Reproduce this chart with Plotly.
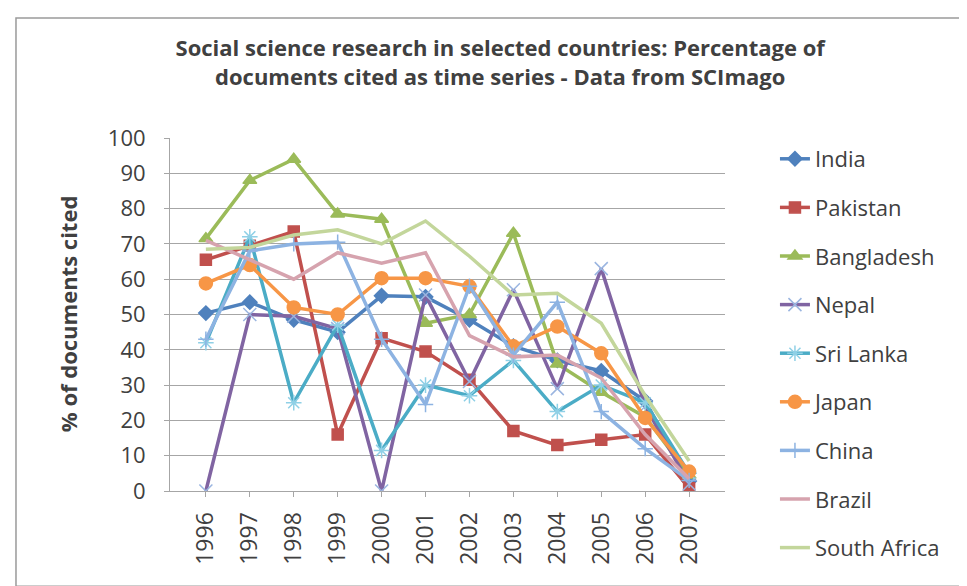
import plotly.graph_objects as go

years = ["1996", "1997", "1998", "1999", "2000", "2001", "2002", "2003", "2004", "2005", "2006", "2007"]

india = [50.4, 53.5, 48.5, 45, 55.3, 55, 48.5, 41, 37, 34, 25.5, 2.8]
pakistan = [65.5, 69.5, 73.5, 16, 43.3, 39.5, 31.5, 17, 13, 14.5, 16, 0.8]
bangladesh = [71.5, 88, 94, 78.5, 77, 47.5, 50, 73, 36, 28, 21, 4.5]
nepal = [0, 50, 49.5, 46, 0, 55.5, 31, 57, 29, 63, 24, 2]
sri_lanka = [42, 72, 25, 47, 11.5, 30, 27, 37, 22.5, 30, 25, 5]
japan = [58.8, 64, 52, 50, 60.3, 60.3, 58, 41, 46.6, 39, 20.7, 5.5]
china = [43, 68, 70, 70.5, 43, 24.5, 58, 38.5, 53.5, 22.5, 12, 3]
brazil = [71, 65.5, 60, 67.5, 64.5, 67.5, 44, 38, 38.5, 32, 16, 3.5]
south_africa = [68.5, 69, 72.5, 74, 70, 76.5, 66.5, 55.5, 56, 47.5, 27, 8.5]

series_names = ["India", "Pakistan", "Bangladesh", "Nepal", "Sri Lanka", "Japan", "China", "Brazil", "South Africa"]
series_values = [india, pakistan, bangladesh, nepal, sri_lanka, japan, china, brazil, south_africa]
series_colors = ["#4F81BD", "#C0504D", "#9BBB59", "#8064A2", "#4BACC6", "#F79646", "#8DB3E2", "#D6A3AE", "#C3D69B"]
series_symbols = ["diamond", "square", "triangle-up", "x-thin-open", "asterisk-open", "circle", "cross-thin-open", None, None]
series_msizes = [11, 11, 12, 13, 13, 13, 11, 0, 0]

fig = go.Figure()
for name, vals, col, sym, ms in zip(series_names, series_values, series_colors, series_symbols, series_msizes):
    if sym is None:
        mode = "lines"
        marker = dict()
    else:
        mode = "lines+markers"
        mcol = col
        if name == "Nepal":
            mcol = "#9AB5E0"
        if name == "Sri Lanka":
            mcol = "#8FD0E6"
        marker = dict(symbol=sym, size=ms, color=mcol, line=dict(color=mcol, width=1.5))
    fig.add_trace(go.Scatter(
        x=years, y=vals, name=name, mode=mode,
        line=dict(color=col, width=3.5),
        marker=marker, legendgroup=name,
    ))

fig.update_layout(
    width=967, height=586,
    margin=dict(l=162, r=250, t=130, b=103, autoexpand=False),
    paper_bgcolor="white", plot_bgcolor="white",
    font=dict(family="Open Sans, Noto Sans, sans-serif", color="#404040"),
    title=dict(
        text="<b>Social science research in selected countries: Percentage of<br>documents cited as time series - Data from SCImago</b>",
        x=0.509, xanchor="center", y=0.918, yanchor="top", yref="container",
        font=dict(size=22, color="#404040", family="Open Sans, sans-serif"),
    ),
    legend=dict(
        x=1.09, xanchor="left", y=1.0, yanchor="top",
        font=dict(size=22, color="#404040"),
        tracegroupgap=17, traceorder="grouped",
        bgcolor="rgba(0,0,0,0)", maxheight=480,
    ),
    showlegend=True,
)

fig.update_xaxes(
    type="category", tickangle=-90, automargin=False,
    showgrid=False, showline=True, linecolor="#A6A6A6", linewidth=1,
    ticks="outside", ticklen=5, tickcolor="#A6A6A6",
    tickfont=dict(size=23, color="#404040"),
    ticklabelstandoff=6,
)
fig.update_yaxes(
    range=[0, 100], dtick=10, automargin=False,
    showgrid=True, gridcolor="#A6A6A6", gridwidth=1,
    showline=True, linecolor="#A6A6A6", linewidth=1,
    ticks="outside", ticklen=5, tickcolor="#A6A6A6",
    tickfont=dict(size=22, color="#404040"),
    ticklabelstandoff=14,
    zeroline=False,
)

fig.add_annotation(
    text="<b>% of documents cited</b>", xref="paper", yref="paper",
    x=-0.1838, y=0.501, xanchor="center", yanchor="middle",
    textangle=-90, showarrow=False,
    font=dict(size=22, color="#404040"),
)

fig.add_shape(type="rect", xref="paper", yref="paper",
              x0=-0.2775, x1=1.4486, y0=-0.27, y1=1.34,
              line=dict(color="#9A9A9A", width=1.5), fillcolor="rgba(0,0,0,0)")

fig.write_html("out.html")
